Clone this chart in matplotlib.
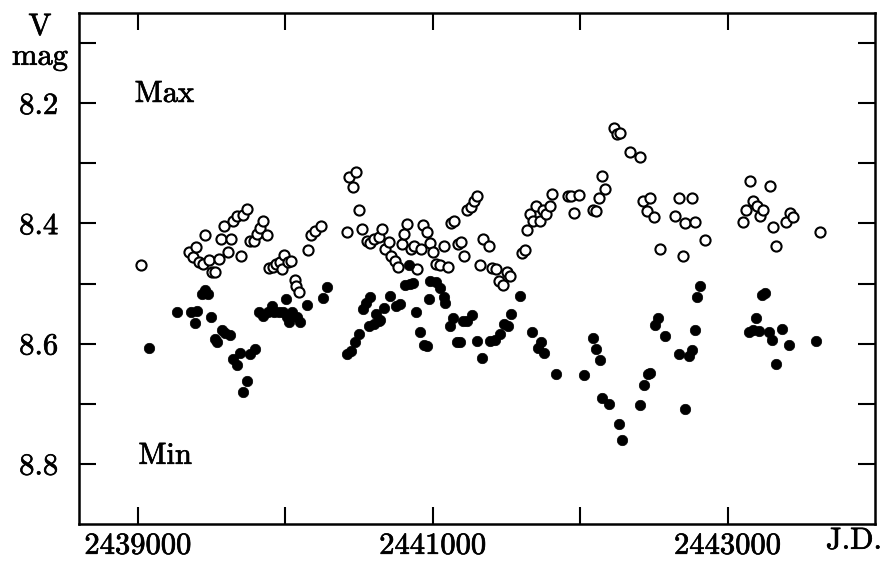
import matplotlib
matplotlib.use("Agg")
import matplotlib.pyplot as plt
import matplotlib.patheffects as pe

plt.rcParams['font.family'] = ['cmr10', 'DejaVu Serif']
plt.rcParams['axes.unicode_minus'] = False
plt.rcParams['axes.formatter.use_mathtext'] = True

# light maxima (open circles): Julian date, V magnitude
max_jd = [2439018, 2439345, 2439370, 2439392, 2439414, 2439438, 2439456, 2439479,
          2439500, 2439523, 2439549, 2439566, 2439586, 2439609, 2439628, 2439647,
          2439670, 2439697, 2439715, 2439738, 2439760, 2439788, 2439806, 2439828,
          2439851, 2439874, 2439887, 2439919, 2439939, 2439964, 2439976, 2439993,
          2440015, 2440039, 2440064, 2440074, 2440093, 2440151, 2440173, 2440198,
          2440243, 2440417, 2440431, 2440458, 2440480, 2440502, 2440523, 2440552,
          2440575, 2440602, 2440633, 2440655, 2440674, 2440700, 2440717, 2440745,
          2440767, 2440791, 2440806, 2440827, 2440852, 2440875, 2440894, 2440920,
          2440937, 2440960, 2440981, 2441003, 2441023, 2441049, 2441073, 2441104,
          2441125, 2441146, 2441171, 2441191, 2441214, 2441234, 2441256, 2441279,
          2441300, 2441322, 2441340, 2441383, 2441402, 2441427, 2441451, 2441473,
          2441503, 2441524, 2441604, 2441624, 2441637, 2441662, 2441682, 2441699,
          2441725, 2441747, 2441770, 2441792, 2441812, 2441918, 2441937, 2441960,
          2441994, 2442086, 2442108, 2442130, 2442149, 2442169, 2442227, 2442250,
          2442269, 2442341, 2442409, 2442429, 2442454, 2442476, 2442499, 2442539,
          2442646, 2442669, 2442696, 2442714, 2442760, 2442782, 2442845, 2443106,
          2443128, 2443150, 2443174, 2443201, 2443219, 2443242, 2443285, 2443307,
          2443330, 2443399, 2443422, 2443443, 2443629]
max_mag = [8.469, 8.448, 8.456, 8.440, 8.465, 8.468, 8.419, 8.461,
           8.481, 8.481, 8.459, 8.426, 8.404, 8.448, 8.426, 8.396,
           8.387, 8.455, 8.386, 8.376, 8.429, 8.429, 8.418, 8.408,
           8.396, 8.419, 8.475, 8.472, 8.468, 8.464, 8.476, 8.453,
           8.464, 8.462, 8.494, 8.504, 8.514, 8.444, 8.419, 8.413,
           8.405, 8.414, 8.323, 8.340, 8.315, 8.377, 8.409, 8.429,
           8.432, 8.426, 8.422, 8.409, 8.442, 8.431, 8.455, 8.463,
           8.473, 8.434, 8.418, 8.401, 8.442, 8.438, 8.476, 8.443,
           8.402, 8.414, 8.433, 8.448, 8.467, 8.469, 8.438, 8.472,
           8.399, 8.396, 8.435, 8.431, 8.454, 8.377, 8.372, 8.363,
           8.354, 8.470, 8.426, 8.437, 8.475, 8.476, 8.496, 8.502,
           8.481, 8.488, 8.450, 8.444, 8.411, 8.385, 8.396, 8.371,
           8.396, 8.378, 8.384, 8.371, 8.351, 8.355, 8.354, 8.382,
           8.353, 8.378, 8.380, 8.358, 8.321, 8.342, 8.241, 8.251,
           8.250, 8.282, 8.290, 8.363, 8.379, 8.358, 8.389, 8.443,
           8.388, 8.358, 8.454, 8.399, 8.358, 8.397, 8.428, 8.397,
           8.377, 8.330, 8.362, 8.371, 8.388, 8.377, 8.338, 8.406,
           8.437, 8.397, 8.382, 8.389, 8.415]

# light minima (filled circles)
min_jd = [2439075, 2439267, 2439358, 2439387, 2439403, 2439433, 2439455, 2439477,
          2439494, 2439523, 2439536, 2439568, 2439591, 2439625, 2439647, 2439670,
          2439693, 2439715, 2439738, 2439760, 2439791, 2439820, 2439851, 2439881,
          2439908, 2439923, 2439955, 2439987, 2440002, 2440010, 2440025, 2440047,
          2440076, 2440100, 2440145, 2440258, 2440281, 2440419, 2440446, 2440473,
          2440501, 2440524, 2440548, 2440564, 2440575, 2440598, 2440615, 2440632,
          2440643, 2440670, 2440711, 2440752, 2440776, 2440813, 2440842, 2440847,
          2440865, 2440888, 2440911, 2440942, 2440962, 2440971, 2440983, 2441020,
          2441051, 2441078, 2441085, 2441118, 2441139, 2441164, 2441186, 2441205,
          2441232, 2441268, 2441298, 2441336, 2441390, 2441421, 2441456, 2441480,
          2441509, 2441528, 2441589, 2441674, 2441715, 2441736, 2441757, 2441838,
          2442024, 2442086, 2442108, 2442132, 2442149, 2442193, 2442261, 2442284,
          2442409, 2442431, 2442459, 2442476, 2442510, 2442531, 2442574, 2442669,
          2442714, 2442737, 2442760, 2442777, 2442794, 2442816, 2443144, 2443170,
          2443195, 2443215, 2443235, 2443255, 2443280, 2443303, 2443325, 2443366,
          2443414, 2443597]
min_mag = [8.608, 8.548, 8.548, 8.565, 8.545, 8.517, 8.510, 8.517,
           8.556, 8.593, 8.598, 8.578, 8.582, 8.586, 8.625, 8.635,
           8.616, 8.681, 8.662, 8.617, 8.609, 8.548, 8.554, 8.547,
           8.538, 8.548, 8.548, 8.547, 8.525, 8.556, 8.564, 8.547,
           8.555, 8.564, 8.535, 8.524, 8.505, 8.617, 8.613, 8.598,
           8.584, 8.542, 8.533, 8.570, 8.523, 8.568, 8.551, 8.562,
           8.560, 8.540, 8.520, 8.537, 8.534, 8.503, 8.470, 8.501,
           8.499, 8.548, 8.581, 8.603, 8.604, 8.526, 8.495, 8.498,
           8.507, 8.522, 8.532, 8.571, 8.558, 8.597, 8.598, 8.562,
           8.562, 8.553, 8.595, 8.624, 8.596, 8.594, 8.584, 8.567,
           8.570, 8.551, 8.520, 8.580, 8.608, 8.598, 8.616, 8.650,
           8.652, 8.590, 8.609, 8.627, 8.690, 8.700, 8.734, 8.760,
           8.702, 8.668, 8.650, 8.649, 8.569, 8.557, 8.588, 8.618,
           8.709, 8.621, 8.610, 8.577, 8.522, 8.504, 8.581, 8.578,
           8.558, 8.579, 8.519, 8.515, 8.580, 8.594, 8.634, 8.576,
           8.603, 8.596]

xticks = [2439000, 2440000, 2441000, 2442000, 2443000]
xtick_labels = ['2439000', '', '2441000', '', '2443000']
yticks = [8.1, 8.2, 8.3, 8.4, 8.5, 8.6, 8.7, 8.8]
ytick_labels = ['', '8.2', '', '8.4', '', '8.6', '', '8.8']

# slight stroke so the thin roman face prints a little heavier
heavy = [pe.withStroke(linewidth=0.5, foreground='black')]

fig = plt.figure(figsize=(8.86, 5.61), dpi=100)
ax = fig.add_axes([79 / 886, 37 / 561, 796 / 886, 511 / 561])

ax.plot(max_jd, max_mag, 'o', ms=7.3, mfc='white', mec='black', mew=1.5, ls='none')
ax.plot(min_jd, min_mag, 'o', ms=7.5, mfc='black', mec='black', mew=0.5, ls='none')

ax.set_xlim(2438600, 2444000)
ax.set_ylim(8.9, 8.05)

ax.set_xticks(xticks, labels=xtick_labels)
ax.set_yticks(yticks, labels=ytick_labels)
ax.tick_params(direction='in', length=12, width=1.5, top=True, right=True,
               labelsize=22)
ax.tick_params(axis='x', pad=6)
ax.tick_params(axis='y', pad=15)
for lab in ax.get_xticklabels() + ax.get_yticklabels():
    lab.set_path_effects(heavy)
for sp in ax.spines.values():
    sp.set_linewidth(1.8)

ax.text(2439180, 8.185, 'Max', fontsize=22, ha='center', va='center', path_effects=heavy)
ax.text(2439185, 8.787, 'Min', fontsize=22, ha='center', va='center', path_effects=heavy)

fig.text(40 / 886, 1 - 27 / 561, 'V', fontsize=22, ha='center', va='center', path_effects=heavy)
fig.text(40 / 886, 1 - 57 / 561, 'mag', fontsize=22, ha='center', va='center', path_effects=heavy)
fig.text(854 / 886, 1 - 541 / 561, 'J.D.', fontsize=22, ha='center', va='center', path_effects=heavy)

fig.savefig('out.png', dpi=100)
